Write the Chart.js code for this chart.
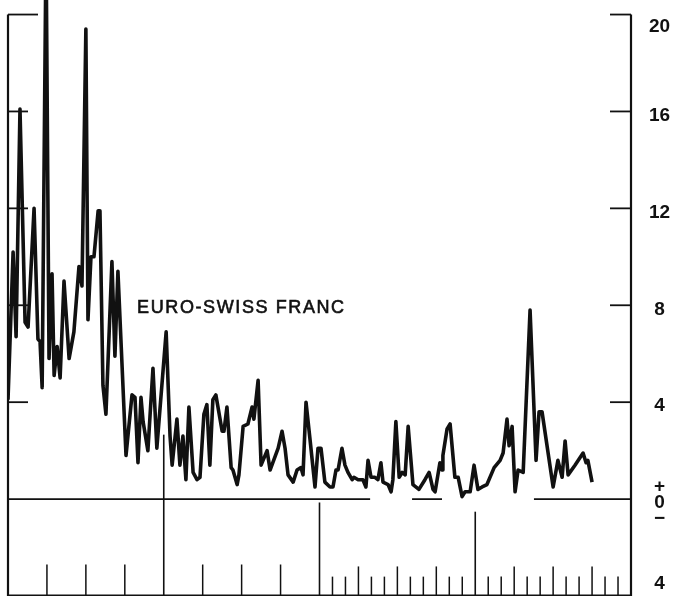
<!DOCTYPE html>
<html lang="en">
<head>
<meta charset="UTF-8">
<title>Euro-Swiss Franc</title>
<script src="https://cdn.jsdelivr.net/npm/chart.js"></script>
<style>
  body { margin: 0; padding: 0; background: #ffffff; }
  #wrap { width: 685px; height: 596px; }
</style>
</head>
<body>
<div id="wrap"><canvas id="fxChart" width="685" height="596"></canvas></div>
<script>
// x = weeks from the left edge of the time axis (4 years, 52 weeks each)
const seriesName = 'EURO-SWISS FRANC';
const weeks = [0, 1.7, 2.7, 4.0, 5.7, 6.7, 8.7, 10.0, 10.7, 11.4,
  12.7, 13.7, 14.7, 15.4, 16.4, 17.4, 18.7, 20.4, 22.0, 23.7,
  24.7, 26.0, 26.7, 27.7, 28.7, 30.1, 30.7, 31.7, 32.7, 34.7,
  35.7, 36.7, 39.4, 41.4, 42.4, 43.4, 44.4, 45.1, 46.7, 48.4,
  49.7, 52.8, 54.1, 54.8, 56.4, 57.4, 58.4, 59.4, 60.4, 61.8,
  63.1, 64.1, 65.4, 66.4, 67.4, 68.4, 69.4, 71.5, 72.1, 73.1,
  74.5, 75.1, 76.5, 77.1, 78.5, 80.1, 81.5, 82.1, 83.5, 84.5,
  86.5, 87.5, 90.2, 91.5, 92.5, 93.5, 95.2, 96.5, 97.8, 98.5,
  99.5, 100.8, 102.5, 103.5, 104.5, 105.8, 107.5, 108.5, 109.5, 110.2,
  111.5, 112.5, 113.5, 114.9, 115.5, 116.9, 118.5, 119.5, 120.2, 121.2,
  122.5, 123.5, 124.5, 125.2, 126.9, 127.9, 128.5, 129.5, 130.6, 131.6,
  132.6, 133.6, 135.2, 137.2, 139.2, 140.6, 141.9, 142.6, 144.2, 144.9,
  145.2, 146.6, 147.6, 149.2, 150.3, 151.6, 152.6, 154.3, 155.6, 156.9,
  158.3, 159.9, 162.3, 164.3, 165.3, 166.6, 167.3, 168.3, 169.3, 170.3,
  172.0, 174.3, 176.3, 177.3, 178.3, 182.0, 183.6, 185.0, 186.0, 187.0,
  189.3, 192.0, 193.0, 193.6, 195.0];
const values = [4.1, 10.2, 6.7, 16.1, 7.3, 7.1, 12.0, 6.6, 6.5, 4.6,
  23.0, 5.8, 9.3, 5.1, 6.3, 5.0, 9.0, 5.8, 6.9, 9.6,
  8.8, 19.4, 7.4, 10.0, 10.0, 11.9, 11.9, 4.7, 3.5, 9.8,
  5.9, 9.4, 1.8, 4.3, 4.2, 1.5, 4.2, 3.2, 2.0, 5.4,
  2.1, 6.9, 2.6, 1.4, 3.3, 1.4, 2.6, 0.8, 3.8, 1.1,
  0.8, 0.9, 3.5, 3.9, 1.4, 4.1, 4.3, 2.8, 2.8, 3.8,
  1.3, 1.2, 0.6, 1.0, 3.0, 3.1, 3.8, 3.3, 4.9, 1.4,
  2.0, 1.2, 2.1, 2.8, 2.1, 1.0, 0.7, 1.2, 1.3, 1.0,
  4.0, 2.5, 0.5, 2.1, 2.1, 0.7, 0.5, 0.5, 1.2, 1.2,
  2.1, 1.4, 1.1, 0.8, 0.9, 0.8, 0.8, 0.5, 1.6, 0.9,
  0.9, 0.8, 1.5, 0.7, 0.6, 0.3, 0.8, 3.2, 0.9, 1.1,
  1.0, 3.0, 0.6, 0.4, 0.8, 1.1, 0.4, 0.3, 1.5, 1.2,
  1.8, 2.9, 3.1, 0.9, 0.9, 0.1, 0.3, 0.3, 1.4, 0.4,
  0.5, 0.6, 1.3, 1.6, 1.9, 3.3, 2.2, 3.0, 0.3, 1.2,
  1.1, 7.8, 1.6, 3.6, 3.6, 0.5, 1.6, 0.9, 2.4, 1.0,
  1.4, 1.9, 1.5, 1.6, 0.7];

// zero baseline is broken where the curve sits on it
const baselineStarts = [0, 134.9, 175.6];
const baselineEnds = [120.9, 144.9, 208];

const yTickValues = [20, 16, 12, 8, 4, 0, -4];
const yTickLabels = [['', '20'], '16', '12', '8', '4', ['+', '0', '−'], ['4', '', '']];

const yearLines = [52, 104, 156];        // weeks
const quarterTicks = [13, 26, 39, 65, 78, 91];   // weeks
const monthTicks = [25, 26, 27, 28, 29, 30, 31, 32, 33, 34, 35,
  37, 38, 39, 40, 41, 42, 43, 44, 45, 46, 47];   // months

const INK = '#111111';

const frame = {
  id: 'frame',
  beforeDatasetsDraw(chart) {
    const { ctx, chartArea: a, scales: { x, y } } = chart;
    const left = x.getPixelForValue(0);
    const right = x.getPixelForValue(208);
    const bottom = a.bottom;
    const seg = (x1, y1, x2, y2, w) => {
      ctx.lineWidth = w;
      ctx.beginPath();
      ctx.moveTo(x1, y1);
      ctx.lineTo(x2, y2);
      ctx.stroke();
    };
    ctx.save();
    ctx.strokeStyle = INK;
    // side axes and bottom edge
    seg(left, y.getPixelForValue(20), left, bottom, 2.2);
    seg(right, y.getPixelForValue(20), right, bottom, 2.2);
    seg(left, bottom - 0.75, right, bottom - 0.75, 1.5);
    // inward ticks on both axes
    yTickValues.filter(v => v > 0).forEach(v => {
      const py = y.getPixelForValue(v);
      seg(left, py, left + (v === 20 ? 30 : 20), py, 1.8);
      seg(right - 21, py, right, py, 1.8);
    });
    // year dividers
    const yearTops = [2.66, -0.14, -0.52];
    yearLines.forEach((w, i) => {
      const px = x.getPixelForValue(w);
      seg(px, y.getPixelForValue(yearTops[i]), px, bottom, 1.6);
    });
    quarterTicks.forEach(w => {
      const px = x.getPixelForValue(w);
      seg(px, y.getPixelForValue(-2.7), px, bottom, 1.5);
    });
    monthTicks.forEach(m => {
      const px = x.getPixelForValue(m * 52 / 12);
      const top = m % 3 === 0 ? -2.78 : -3.2;
      seg(px, y.getPixelForValue(top), px, bottom, 1.5);
    });
    ctx.restore();
  },
  afterDatasetsDraw(chart) {
    const { ctx, scales: { x, y } } = chart;
    const px = x.getPixelForValue(43.1);
    const py = y.getPixelForValue(7.9);
    ctx.save();
    ctx.fillStyle = INK;
    ctx.strokeStyle = INK;
    ctx.lineWidth = 0.6;
    ctx.font = '18px "Liberation Sans", Arial, sans-serif';
    ctx.letterSpacing = '1.6px';
    ctx.textAlign = 'left';
    ctx.textBaseline = 'middle';
    ctx.fillText(seriesName, px, py);
    ctx.strokeText(seriesName, px, py);
    ctx.restore();
  }
};

const zeroData = [];
baselineStarts.forEach((s, i) => {
  zeroData.push({ x: s, y: 0 }, { x: baselineEnds[i], y: 0 }, { x: baselineEnds[i], y: null });
});

const ctx = document.getElementById('fxChart').getContext('2d');
new Chart(ctx, {
  type: 'line',
  data: {
    datasets: [
      {
        label: seriesName,
        data: weeks.map((w, i) => ({ x: w, y: values[i] })),
        borderColor: INK,
        borderWidth: 3.6,
        borderJoinStyle: 'round',
        pointRadius: 0,
        tension: 0,
        order: 0
      },
      {
        label: 'zero',
        data: zeroData,
        borderColor: INK,
        borderWidth: 1.6,
        pointRadius: 0,
        order: 1
      }
    ]
  },
  options: {
    responsive: false,
    animation: false,
    events: [],
    layout: { padding: { left: 8, right: 0, top: 0, bottom: 0 } },
    plugins: { legend: { display: false }, tooltip: { enabled: false } },
    scales: {
      x: { type: 'linear', min: 0, max: 208, display: false },
      y: {
        position: 'right',
        min: -4,
        max: 20.6,
        grid: { display: false, drawTicks: false },
        border: { display: false },
        afterBuildTicks: s => { s.ticks = yTickValues.map(v => ({ value: v })); },
        afterFit: s => { s.width = 54; s.paddingTop = 0; s.paddingBottom = 0; },
        ticks: {
          padding: 18,
          labelOffset: 4,
          crossAlign: 'center',
          color: INK,
          font: { family: '"Liberation Sans", Arial, sans-serif', size: 19, weight: 'bold', lineHeight: 0.85 },
          callback: v => yTickLabels[yTickValues.indexOf(v)]
        }
      }
    }
  },
  plugins: [frame]
});
</script>
</body>
</html>
